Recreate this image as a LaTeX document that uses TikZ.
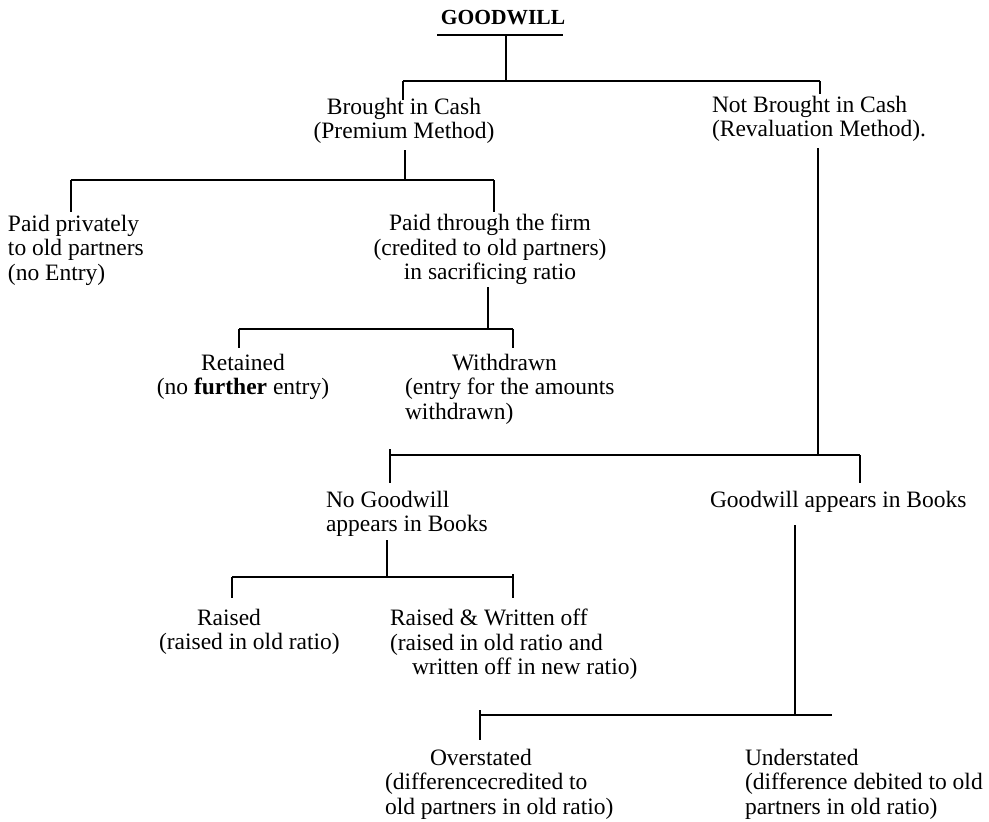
\documentclass[tikz,border=0pt]{standalone}
\usepackage{fontspec}
\setmainfont{Liberation Serif}
\begin{document}
\begin{tikzpicture}[x=1pt,y=-1pt,
  lbl/.style={inner sep=0pt, outer sep=0pt, font=\fontsize{23.5}{24.5}\selectfont},
  lblL/.style={lbl, anchor=north west, align=left},
  lblC/.style={lbl, anchor=north, align=center},
  conn/.style={line width=2.4pt, black},
  thin/.style={line width=1.8pt, black}]
\useasboundingbox (0,0) rectangle (989,822);
\fill[white] (0,0) rectangle (989,822);

% ---- texts ----
\node[lbl, anchor=center, font=\bfseries\fontsize{21.5}{24}\selectfont] (gw) at (503,18) {GOODWILL};
\node[lblC] (bic) at (404,98) {Brought in Cash\\(Premium Method)};
\node[lblL] (nbc) at (712,96) {Not Brought in Cash\\(Revaluation Method).};
\node[lblL] (pp) at (8,215) {Paid privately\\to old partners\\(no Entry)};
\node[lblC] (ptf) at (490,214) {Paid through the firm\\(credited to old partners)\\in sacrificing ratio};
\node[lblC] (ret) at (243,354) {Retained\\(no \textbf{further} entry)};
\node[lblL] (wd) at (405,354) {\hspace*{47pt}Withdrawn\\(entry for the amounts\\withdrawn)};
\node[lblL] (ngw) at (326,491) {No Goodwill\\appears in Books};
\node[lblL] (gab) at (710,491) {Goodwill appears in Books};
\node[lblL] (rs) at (159,609) {\hspace*{38pt}Raised\\(raised in old ratio)};
\node[lblL] (rw) at (390,609) {Raised \& Written off\\(raised in old ratio and\\\hspace*{22pt}written off in new ratio)};
\node[lblL] (ov) at (385,749) {\hspace*{45pt}Overstated\\(differencecredited to\\old partners in old ratio)};
\node[lblL] (us) at (745,749) {Understated\\(difference debited to old\\partners in old ratio)};

% ---- junction coordinates ----
\coordinate (ul1) at (437,35); \coordinate (ul2) at (563,35);
\coordinate (g1) at (506,36); \coordinate (j1) at (506,81);
\coordinate (j1l) at (403,81); \coordinate (j1r) at (820,81);
\coordinate (t1l) at (403,100); \coordinate (t1r) at (820,94);

\coordinate (v2a) at (405,150); \coordinate (j2) at (405,180);
\coordinate (j2l) at (71,180); \coordinate (j2r) at (494,180);
\coordinate (t2l) at (71,212); \coordinate (t2r) at (494,212);

\coordinate (v3a) at (488,287); \coordinate (j3) at (488,329);
\coordinate (j3l) at (239,329); \coordinate (j3r) at (513,329);
\coordinate (t3l) at (239,348); \coordinate (t3r) at (513,348);

\coordinate (v4a) at (818,148); \coordinate (j4) at (818,455);
\coordinate (j4l) at (390,455); \coordinate (j4r) at (860,455);
\coordinate (t4la) at (390,449); \coordinate (t4l) at (390,483); \coordinate (t4r) at (860,483);

\coordinate (v5a) at (387,540); \coordinate (j5) at (387,577);
\coordinate (j5l) at (232,577); \coordinate (j5r) at (513,577);
\coordinate (t5l) at (232,598); \coordinate (t5ra) at (513,574); \coordinate (t5r) at (513,598);

\coordinate (v6a) at (795,525); \coordinate (j6) at (795,715);
\coordinate (j6l) at (480,715); \coordinate (j6r) at (832,715);
\coordinate (t6la) at (480,710); \coordinate (t6l) at (480,740);

% ---- connectors ----
\draw[thin] (ul1) -- (ul2);
\draw[conn] (g1) -- (j1);
\draw[conn] (j1l) -- (j1r);
\draw[conn] (j1l) -- (t1l);
\draw[conn] (j1r) -- (t1r);

\draw[conn] (v2a) -- (j2);
\draw[conn] (j2l) -- (j2r);
\draw[conn] (j2l) -- (t2l);
\draw[conn] (j2r) -- (t2r);

\draw[conn] (v3a) -- (j3);
\draw[conn] (j3l) -- (j3r);
\draw[conn] (j3l) -- (t3l);
\draw[conn] (j3r) -- (t3r);

\draw[conn] (v4a) -- (j4);
\draw[conn] (j4l) -- (j4r);
\draw[conn] (t4la) -- (t4l);
\draw[conn] (j4r) -- (t4r);

\draw[conn] (v5a) -- (j5);
\draw[conn] (j5l) -- (j5r);
\draw[conn] (j5l) -- (t5l);
\draw[conn] (t5ra) -- (t5r);

\draw[conn] (v6a) -- (j6);
\draw[conn] (j6l) -- (j6r);
\draw[conn] (t6la) -- (t6l);
\end{tikzpicture}
\end{document}
